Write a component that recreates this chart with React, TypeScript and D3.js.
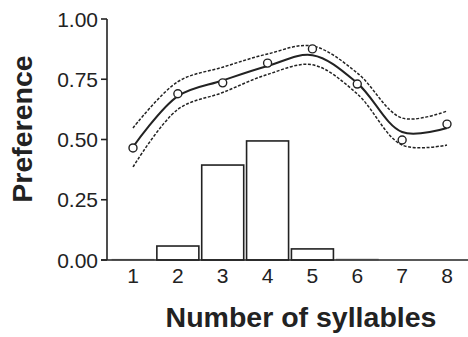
import React from "react";
import * as d3 from "d3";

// syllable counts on the x axis
const syllables = [1, 2, 3, 4, 5, 6, 7, 8];
// proportion of songs (bars)
const barValues = [0.003, 0.058, 0.394, 0.494, 0.046, 0.004, 0, 0];
// observed preference (open circles)
const observed = [0.465, 0.69, 0.735, 0.817, 0.876, 0.73, 0.498, 0.564];
// fitted curve and its confidence band
const fitMid = [0.469, 0.68, 0.745, 0.805, 0.85, 0.734, 0.531, 0.548];
const fitUpper = [0.548, 0.74, 0.8, 0.855, 0.888, 0.776, 0.589, 0.618];
const fitLower = [0.386, 0.625, 0.695, 0.77, 0.81, 0.689, 0.477, 0.477];
const yTicks = [0, 0.25, 0.5, 0.75, 1];

const W = 468;
const H = 337;
const font = "'Liberation Sans', Arial, sans-serif";

export default function App() {
  const x = d3.scaleLinear().domain([1, 8]).range([133, 447]);
  const y = d3.scaleLinear().domain([0, 1]).range([260, 19]);
  const barW = 42;

  const line = (vals: number[]) =>
    d3
      .line<number>()
      .x((_, i) => x(syllables[i]))
      .y((d) => y(d))
      .curve(d3.curveCatmullRom.alpha(0.5))(vals) || "";

  return (
    <svg
      width={W}
      height={H}
      style={{ position: "absolute", left: 0, top: 0, background: "#fff" }}
      fontFamily={font}
    >
      {/* bars */}
      {syllables.map((s, i) =>
        barValues[i] > 0 ? (
          <rect
            key={s}
            x={x(s) - barW / 2}
            y={y(barValues[i])}
            width={barW}
            height={y(0) - y(barValues[i])}
            fill="#fff"
            stroke="#222"
            strokeWidth={barValues[i] < 0.01 ? 0.8 : 1.6}
            strokeOpacity={barValues[i] < 0.01 ? 0.4 : 1}
          />
        ) : null
      )}

      {/* axes */}
      <line x1={107} x2={107} y1={y(1)} y2={y(0)} stroke="#222" strokeWidth={1.6} />
      <line x1={101} x2={468} y1={y(0)} y2={y(0)} stroke="#222" strokeWidth={1.6} />
      {yTicks.map((t) => (
        <g key={t}>
          <line x1={101} x2={107} y1={y(t)} y2={y(t)} stroke="#222" strokeWidth={1.6} />
          <text
            x={98}
            y={y(t)}
            dy="0.36em"
            textAnchor="end"
            fontSize={21}
            fill="#222"
          >
            {t.toFixed(2)}
          </text>
        </g>
      ))}
      {syllables.map((s) => (
        <text key={s} x={x(s)} y={283} textAnchor="middle" fontSize={21} fill="#222">
          {s}
        </text>
      ))}

      {/* fitted curves */}
      <path d={line(fitUpper)} fill="none" stroke="#222" strokeWidth={1.5} strokeDasharray="3,1.6" />
      <path d={line(fitLower)} fill="none" stroke="#222" strokeWidth={1.5} strokeDasharray="3,1.6" />
      <path d={line(fitMid)} fill="none" stroke="#222" strokeWidth={2} />

      {/* observed points */}
      {syllables.map((s, i) => (
        <circle
          key={s}
          cx={x(s)}
          cy={y(observed[i])}
          r={4}
          fill="#fff"
          stroke="#222"
          strokeWidth={1.4}
        />
      ))}

      {/* axis titles */}
      <text
        transform={`translate(32,129) rotate(-90)`}
        textAnchor="middle"
        fontSize={28.5}
        fontWeight="bold"
        fill="#222"
      >
        Preference
      </text>
      <text x={301} y={327} textAnchor="middle" fontSize={28.5} fontWeight="bold" fill="#222">
        Number of syllables
      </text>
    </svg>
  );
}
